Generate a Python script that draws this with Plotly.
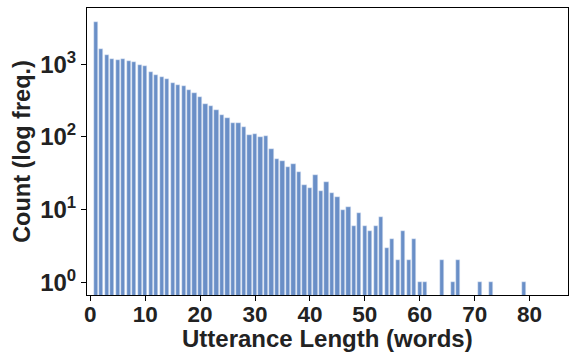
import plotly.graph_objects as go

lengths = [1,2,3,4,5,6,7,8,9,10,11,12,13,14,15,16,17,18,19,20,
           21,22,23,24,25,26,27,28,29,30,31,32,33,34,35,36,37,38,39,40,
           41,42,43,44,45,46,47,48,49,50,51,52,53,54,55,56,57,58,59,60,
           61,64,66,67,71,73,79]
counts = [3800,1600,1340,1190,1140,1170,1110,1085,965,945,790,718,667,632,557,523,502,438,402,351,
          286,266,234,200,180,154,154,137,106,110,99,102,69,49,47,39,42,33,22,20,
          30,18,24,17,15,10,11,6,9,6,5,6,8,3,4,2,5,2,4,1,
          1,2,1,2,1,1,1]
ytick_vals = [1, 10, 100, 1000]
ytick_text = ["10<sup>0</sup>", "10<sup>1</sup>", "10<sup>2</sup>", "10<sup>3</sup>"]
xtick_vals = [0, 10, 20, 30, 40, 50, 60, 70, 80]
x_title = "Utterance Length (words)"

fig = go.Figure(go.Bar(
    x=lengths, y=counts, width=0.78,
    marker=dict(color="#6a8fc7", line=dict(color="#e8eef8", width=0.5)),
))

font_family = "Liberation Sans, Arial, sans-serif"
fig.update_layout(
    width=570, height=353,
    margin=dict(l=87, r=2, t=8, b=58),
    plot_bgcolor="white", paper_bgcolor="white",
    showlegend=False,
    bargap=0,
    font=dict(family=font_family, color="#222222"),
)
fig.update_xaxes(
    range=[-0.6, 87], tickvals=xtick_vals,
    showline=True, linecolor="black", linewidth=1, mirror=True,
    ticks="outside", ticklen=5, tickcolor="black", tickwidth=1,
    ticklabelstandoff=-6,
    showgrid=False, zeroline=False,
    tickfont=dict(size=22.5, family=font_family, weight="bold", color="#222222"),
)
fig.add_annotation(
    text=x_title, xref="paper", yref="paper", x=0.5, y=0,
    yshift=-58, xanchor="center", yanchor="bottom", showarrow=False,
    borderpad=0,
    font=dict(size=24, family=font_family, weight="bold", color="#222222"),
)
fig.update_yaxes(
    type="log", range=[-0.175, 3.773],
    tickvals=ytick_vals, ticktext=ytick_text,
    showline=True, linecolor="black", linewidth=1, mirror=True,
    ticks="outside", ticklen=5, tickcolor="black", tickwidth=1,
    showgrid=False, zeroline=False,
    tickfont=dict(size=24, family=font_family, weight="bold", color="#222222"),
    title=dict(text="Count (log freq.)", standoff=2,
               font=dict(size=23.5, family=font_family, weight="bold", color="#222222")),
)

fig.write_html("out.html")
